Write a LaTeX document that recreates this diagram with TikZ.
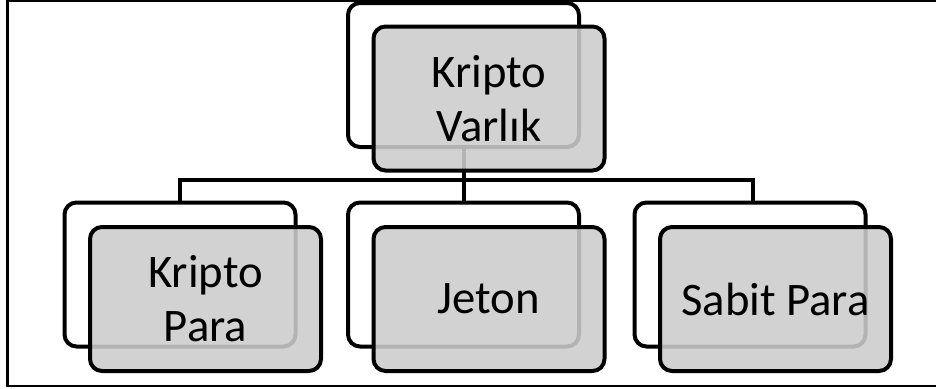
\documentclass[tikz,border=0pt]{standalone}
\usepackage{fontspec}
\setmainfont{Carlito}
\definecolor{boxgray}{RGB}{204,204,204}
\begin{document}
\begin{tikzpicture}[x=0.75pt,y=-0.75pt,
  card/.style={draw=black, line width=3pt, rounded corners=9pt,
    minimum width=173.25pt, minimum height=108pt, inner sep=0pt},
  backcard/.style={card, fill=white},
  frontcard/.style={card, fill=boxgray, fill opacity=0.88, text opacity=1,
    align=center, font=\fontsize{35}{40.5}\selectfont},
  conn/.style={draw=black, line width=3pt, line join=miter}]
  \useasboundingbox (0,0) rectangle (936,389);
  \clip (0,0) rectangle (936,389);
  % outer frame (runs past the right edge)
  \draw[line width=2pt] (7.5,1) rectangle (960,386);

  % shadow cards behind
  \node[backcard] (tb) at (463.5,75) {};
  \node[backcard] (lb) at (180,274.5) {};
  \node[backcard] (mb) at (463.5,274.5) {};
  \node[backcard] (rb) at (750,274.5) {};

  % tree connectors
  \coordinate (bar) at (463.5,180);
  \draw[conn] (tb.south) -- (tb.south |- bar);
  \draw[conn] (lb.north) -- (lb.north |- bar) -- ([xshift=2.25pt]rb.north |- bar) -- ([xshift=2.25pt]rb.north);
  \draw[conn] (mb.north) -- (mb.north |- bar);

  % front cards with labels
  \node[frontcard] (tf) at (489,98.5) {Kripto\\Varlık};
  \node[frontcard] (lf) at (205.5,299) {Kripto\\Para};
  \node[frontcard] (mf) at (489,299) {Jeton};
  \node[frontcard] (rf) at (775.5,299) {Sabit Para};
\end{tikzpicture}
\end{document}
